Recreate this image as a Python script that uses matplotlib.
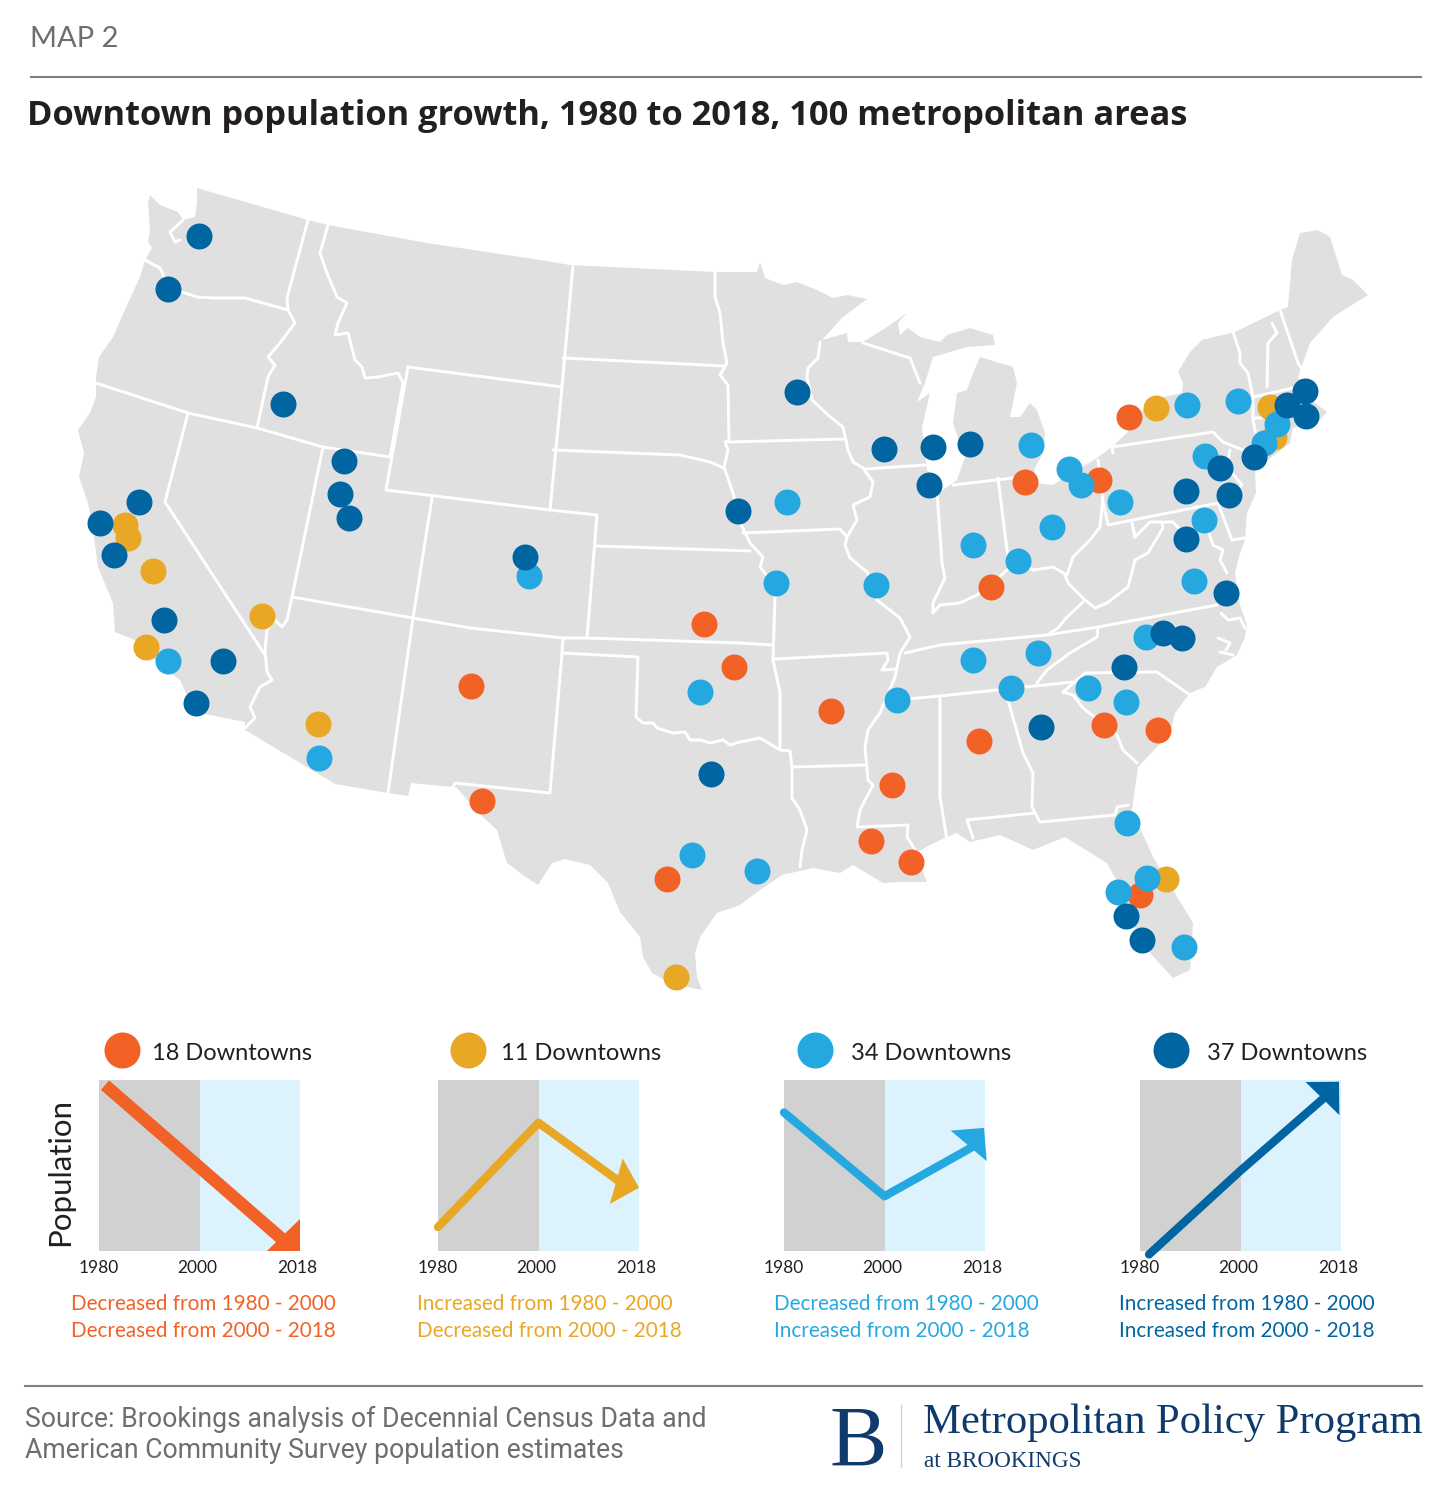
import numpy as np
import matplotlib.pyplot as plt

ORANGE = '#f26125'
AMBER = '#e8a725'
LIGHT = '#25a8e0'
DARK = '#0065a1'

# dots in picture pixels
orange_x = [1129,1099,1025,991,704,734,471,831,979,1104,1158,892,482,871,911,667,1140]
orange_y = [417,480,482,587,624,667,686,711,741,725,730,785,801,841,862,879,895]
amber_x = [1156,1270,1274,125,128,153,262,146,318,1166,676]
amber_y = [408,407,437,525,538,571,616,647,724,879,977]
light_x = [1187,1238,1277,1264,1205,1031,1069,1081,1120,1052,973,1018,1204,1194,787,776,876,529,168,700,973,1038,1146,1011,1088,1126,897,319,1127,1147,1118,1184,692,757]
light_y = [405,401,424,443,456,445,469,485,502,527,545,561,520,581,502,583,585,576,661,692,660,653,637,688,688,702,700,758,823,878,892,947,855,871]
dark_x = [199,168,283,344,340,349,139,100,114,164,223,196,525,738,797,884,933,970,929,1305,1287,1306,1254,1220,1229,1186,1186,1226,1163,1182,1124,1041,711,1126,1142]
dark_y = [236,289,404,461,494,518,502,523,555,620,661,703,557,511,392,449,447,444,485,391,405,416,457,468,495,491,539,593,633,638,667,727,774,916,940]

# country outline
outline = [(197,188),(197,203),(195,217),(183,220),(178,212),(160,205),(150,195),(148,203),(150,230),(148,242),(152,248),
    (145,260),(140,277),(128,303),(113,337),(99,357),(96,377),(96,397),(90,413),(78,430),(84,453),(79,477),(88,503),
    (93,530),(98,567),(113,603),(115,632),(135,640),(160,665),(180,680),(195,712),(245,722),(245,730),(335,784),(388,793),
    (408,796),(411,783),(453,787),(457,788),(470,803),(483,817),(497,830),(502,847),(507,863),(523,875),(538,885),
    (552,863),(565,859),(590,865),(608,883),(620,912),(640,937),(643,957),(652,973),(670,983),(702,990),(697,977),
    (695,953),(700,937),(717,913),(740,905),(760,890),(782,875),(813,868),(840,873),(853,865),(883,883),(900,882),
    (927,882),(915,853),(940,840),(957,833),(970,842),(1000,835),(1033,850),(1065,837),(1107,863),(1118,883),(1130,920),
    (1150,953),(1173,978),(1190,970),(1193,923),(1173,890),(1153,857),(1132,810),(1138,767),(1170,733),(1175,713),
    (1190,693),(1205,687),(1217,667),(1237,655),(1245,637),(1247,625),(1240,605),(1235,573),(1240,553),(1245,540),(1247,513),
    (1256,493),(1255,470),(1290,443),(1293,428),(1317,423),(1327,412),(1307,397),(1298,377),(1310,343),(1333,317),
    (1368,295),(1353,280),(1342,275),(1330,237),(1318,230),(1300,233),(1292,260),(1288,307),(1280,310),(1235,332),
    (1202,340),(1190,352),(1178,372),(1183,383),(1182,393),(1150,400),(1127,433),(1112,447),(1097,458),(1053,485),
    (1033,483),(1035,468),(1043,453),(1045,433),(1037,410),(1030,403),(1020,417),(1010,417),(1017,383),(1013,367),
    (980,357),(973,373),(967,390),(957,393),(953,423),(965,457),(957,480),(940,492),(927,470),(922,427),(930,393),
    (917,402),(925,383),(933,357),(967,347),(995,345),(993,335),(970,328),(947,335),(940,342),(920,337),(908,328),
    (900,335),(898,323),(907,313),(887,327),(863,342),(848,342),(847,333),(822,340),(843,317),(867,299),(847,295),
    (833,298),(817,290),(797,282),(783,285),(765,278),(760,262),(757,272),(715,272),(570,265),(540,260),(427,243),
    (328,225),(308,220)]

# state borders
borders = [
    [(308,220),(287,298),(288,310),(295,323),(280,343),(268,357),(275,365),(268,377),(257,428)],
    [(145,260),(160,268),(167,283),(182,292),(197,297),(213,298),(245,298),(288,310)],
    [(328,225),(320,253),(327,273),(337,297),(347,303),(338,323),(335,335),(348,333),(355,360),(362,367),(365,378),(378,377),(398,373),(403,383),(390,457)],
    [(408,367),(562,387),(550,510),(386,490),(408,367)],
    [(573,265),(562,387)],
    [(563,358),(725,366)],
    [(553,450),(680,455),(710,462),(724,468)],
    [(96,383),(188,413),(257,428),(323,447),(390,457)],
    [(188,413),(165,502),(265,655)],
    [(323,447),(292,597),(287,620),(282,627),(275,620),(267,630),(265,650),(267,672),(272,680),(260,687),(250,707),(255,718),(245,728)],
    [(292,597),(413,618),(470,628),(563,638),(587,638),(740,643),(772,645)],
    [(432,498),(413,618),(388,793)],
    [(550,510),(597,515),(587,638)],
    [(595,546),(750,551)],
    [(563,638),(562,653),(550,793),(455,783),(453,787)],
    [(562,653),(638,657),(636,717),(643,723),(653,723),(657,728),(673,733),(685,732),(690,740),(700,740),(710,743),(723,740),(730,745),(740,742),(760,738),(780,750),(790,751),(792,767),(792,798),(800,810),(807,830),(802,850),(800,867)],
    [(775,597),(773,660),(780,693),(780,748)],
    [(775,659),(887,653),(888,660),(882,670),(897,669)],
    [(739,520),(750,543),(763,557),(760,567),(773,583),(775,597)],
    [(715,272),(715,297),(720,313),(723,343),(727,363),(720,375),(728,385),(729,440),(725,442),(728,450),(724,467),(733,493),(739,520)],
    [(728,442),(845,439)],
    [(820,342),(818,358),(808,368),(807,377),(812,400),(828,415),(843,427),(848,450),(853,462),(863,468),(873,482),(870,497),(853,505),(857,520),(847,537),(845,545),(850,558),(867,572),(877,600),(900,618),(910,637),(900,653),(895,677),(880,713),(868,730),(865,747),(868,780),(873,785),(860,810),(857,827),(908,825),(907,837),(917,853)],
    [(743,533),(840,529),(847,537)],
    [(865,469),(925,465)],
    [(863,343),(910,358),(920,383)],
    [(937,492),(942,563),(945,578),(933,603),(933,613),(940,605),(960,603),(977,595),(993,583),(1007,570),(1020,562),(1033,570),(1053,567),(1067,575),(1073,557),(1090,540),(1100,527),(1103,497),(1098,460)],
    [(953,485),(1013,478),(1033,476)],
    [(998,478),(1008,558)],
    [(1102,497),(1108,525),(1218,503),(1232,540),(1245,538)],
    [(1113,453),(1112,447),(1213,432),(1223,442),(1243,450)],
    [(1230,450),(1227,467),(1242,485),(1232,493),(1220,503)],
    [(1135,537),(1132,523),(1135,537),(1150,522),(1162,522),(1173,522),(1190,540)],
    [(1162,523),(1163,528),(1148,553),(1135,560),(1128,587),(1107,603),(1095,608),(1085,600),(1068,583),(1065,575)],
    [(1083,602),(1067,617),(1058,628),(1050,633)],
    [(905,653),(940,645),(1047,635),(1098,627),(1217,605)],
    [(1098,627),(1097,637),(1070,653),(1047,670),(1037,683)],
    [(897,700),(940,696),(1073,682)],
    [(1063,692),(1085,673),(1157,672),(1190,695)],
    [(1063,692),(1073,695),(1083,708),(1117,735),(1123,750),(1137,763)],
    [(940,698),(940,797),(947,840)],
    [(1008,700),(1023,753),(1033,773),(1032,807),(1040,822),(1115,815),(1117,807),(1128,805)],
    [(1035,813),(967,820),(973,838)],
    [(792,767),(865,765)],
    [(1233,332),(1240,353),(1240,363),(1248,373),(1253,397),(1253,420),(1257,440)],
    [(1272,323),(1277,333),(1268,343),(1267,387)],
    [(1280,310),(1298,363),(1307,377)],
    [(1253,397),(1293,388)],
    [(1255,418),(1283,417)],
    # water
    [(183,220),(170,232),(175,242),(180,240)],
    [(1207,527),(1213,545),(1223,550),(1220,560),(1227,573)],
    [(1221,613),(1228,620),(1240,618),(1245,628)],
    [(1218,638),(1230,643),(1226,650)],
    [(1220,652),(1233,655)],
]

# small charts: x 0,1,2 stand for 1980,2000,2018
panel_left = [99,438,784,1140]
panel_colors = [ORANGE,AMBER,LIGHT,DARK]
panel_x = [[0.06,1,1.88],[0,1,1.82],[0,1,1.88],[0.09,1,1.84]]
panel_y = [[0.97,0.49,0.04],[0.14,0.75,0.40],[0.81,0.32,0.61],[-0.02,0.47,0.90]]
head_base_x = [1.78,1.82,1.86,1.83]
head_base_y = [0.12,0.40,0.63,0.90]
head_tip_x = [2.06,2.0,1.99,1.98]
head_tip_y = [-0.05,0.37,0.72,0.99]
year_ticks = [0,0.98,1.97]
year_labels = ['1980','2000','2018']
legend_counts = ['18 Downtowns','11 Downtowns','34 Downtowns','37 Downtowns']
legend_dot_x = [122,468,815,1171]
legend_text_x = [152,501,851,1207]
captions = [['Decreased from 1980 - 2000','Decreased from 2000 - 2018'],
            ['Increased from 1980 - 2000','Decreased from 2000 - 2018'],
            ['Decreased from 1980 - 2000','Increased from 2000 - 2018'],
            ['Increased from 1980 - 2000','Increased from 2000 - 2018']]
caption_x = [71,417,774,1119]

W,H = 1447,1500
fig = plt.figure(figsize=(W/100,H/100),dpi=100)
ax = fig.add_axes([0,0,1,1])
ax.set_xlim(0,W)
ax.set_ylim(H,0)
ax.axis('off')

ax.text(30,39,'MAP 2',fontsize=21,family='Lato',color='#6d6e71',va='center')
ax.plot([31,1421],[77,77],color='#808080',lw=1.5)
ax.text(27,116,'Downtown population growth, 1980 to 2018, 100 metropolitan areas',fontsize=24.75,family='Open Sans',
        fontweight='bold',color='#231f20',va='center')

ox,oy = zip(*outline)
ax.fill(ox,oy,color='#e0e0e0',lw=0)
for b in borders:
    x,y = zip(*b)
    ax.plot(x,y,color='white',lw=2.1,solid_joinstyle='round',solid_capstyle='round')

s = (26*0.72)**2
ax.scatter(orange_x,orange_y,s=s,color=ORANGE,lw=0,zorder=3)
ax.scatter(amber_x,amber_y,s=s,color=AMBER,lw=0,zorder=4)
ax.scatter(light_x,light_y,s=s,color=LIGHT,lw=0,zorder=5)
ax.scatter(dark_x,dark_y,s=s,color=DARK,lw=0,zorder=6)

for i in range(4):
    c = panel_colors[i]
    ax.scatter(legend_dot_x[i],1050,s=(36*0.72)**2,color=c,lw=0)
    ax.text(legend_text_x[i],1054,legend_counts[i],fontsize=17,family='Lato',color='#231f20',va='center')
    ax.text(caption_x[i],1304,captions[i][0],fontsize=14.9,family='Lato',color=c,va='center')
    ax.text(caption_x[i],1331,captions[i][1],fontsize=14.9,family='Lato',color=c,va='center')

    a = fig.add_axes([panel_left[i]/W,(H-1251)/H,201/W,171/H])
    a.set_xlim(0,2)
    a.set_ylim(0,1)
    a.patch.set_visible(False)
    for sp in a.spines.values():
        sp.set_visible(False)
    a.axvspan(0,1,color='#d1d1d1',lw=0)
    a.axvspan(1,2,color='#dcf3fd',lw=0)
    a.set_yticks([])
    a.set_xticks(year_ticks,year_labels,fontsize=12.5,family='Lato',color='#231f20')
    a.tick_params(axis='x',length=0,pad=6.5)

    wide = i == 0
    a.plot(panel_x[i],panel_y[i],color=c,lw=9 if wide else 6,clip_on=False,
           solid_capstyle='butt' if wide else 'round',solid_joinstyle='round')
    ann = a.annotate('',xy=(head_tip_x[i],head_tip_y[i]),xytext=(head_base_x[i],head_base_y[i]),annotation_clip=False,
                     arrowprops=dict(arrowstyle='-|>,head_length=1,head_width=1',mutation_scale=24 if wide else 17,fc=c,ec=c,lw=0,shrinkA=0,shrinkB=0))
    if wide:
        ann.arrow_patch.set_clip_path(a.patch)

ax.text(60,1172,'Population',rotation=90,fontsize=22.5,family='Lato',color='#231f20',ha='center',va='center')

ax.plot([25,1422],[1386,1386],color='#808080',lw=1.5)
ax.text(25,1419,'Source: Brookings analysis of Decennial Census Data and',fontsize=19.2,family='Roboto',color='#6d6e71',va='center')
ax.text(25,1451,'American Community Survey population estimates',fontsize=19.2,family='Roboto',color='#6d6e71',va='center')

navy = '#0f3a6b'
ax.text(829,1466,'B',fontsize=62,family='Liberation Serif',color=navy,va='baseline')
ax.plot([901,901],[1405,1467],color='#c8d4dc',lw=1)
ax.text(923,1433,'Metropolitan Policy Program',fontsize=30.7,family='Liberation Serif',color=navy,va='baseline')
ax.text(924,1467,'at BROOKINGS',fontsize=16.7,family='Liberation Serif',color=navy,va='baseline')

plt.savefig('out.png',dpi=100)
